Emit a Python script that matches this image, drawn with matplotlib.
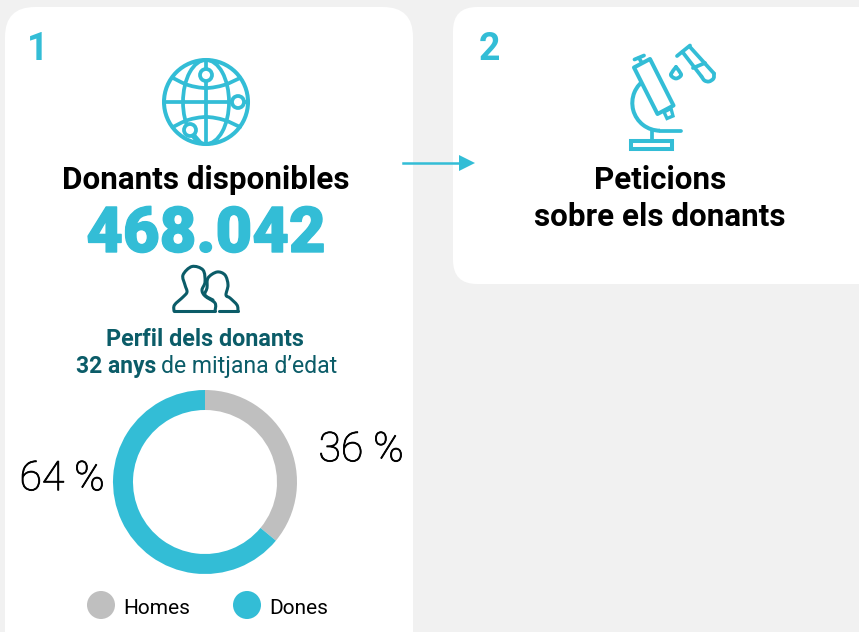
import numpy as np
import matplotlib
matplotlib.use('Agg')
import matplotlib.pyplot as plt
import matplotlib.patheffects as pe
from matplotlib.patches import FancyBboxPatch, Circle, Ellipse, Polygon, Arc
from matplotlib.path import Path
from matplotlib.patches import PathPatch

# ============================================================================
# DATA
# ============================================================================

gender_labels = ['Homes', 'Dones']
gender_values = [36, 64]
gender_pct_text = ['36 %', '64 %']
total_donors = '468.042'

TEAL = '#33bdd6'
DARK = '#0b5c68'
GREY = '#bfbfbf'
BG = '#f1f1f1'
FONT = 'Roboto'

W, H = 859, 632
fig = plt.figure(figsize=(W / 100, H / 100), dpi=100, facecolor=BG)
ax = fig.add_axes([0, 0, 1, 1])
ax.set_xlim(0, W)
ax.set_ylim(H, 0)
ax.axis('off')


def card(x0, y0, x1, y1, r=30):
    ax.add_patch(FancyBboxPatch((x0 + r, y0 + r), x1 - x0 - 2 * r, y1 - y0 - 2 * r,
                                boxstyle=f'round,pad={r},rounding_size={r}',
                                fc='white', ec='none'))


def smooth(points, color, lw=2.7):
    """Catmull-Rom curve through the points, used for the icon outlines."""
    p = np.array(points, dtype=float)
    q = np.vstack([p[0], p, p[-1]])
    verts = [p[0]]
    codes = [Path.MOVETO]
    for i in range(1, len(q) - 2):
        c1 = q[i] + (q[i + 1] - q[i - 1]) / 6
        c2 = q[i + 1] - (q[i + 2] - q[i]) / 6
        verts += [c1, c2, q[i + 1]]
        codes += [Path.CURVE4] * 3
    ax.add_patch(PathPatch(Path(verts, codes), fc='none', ec=color, lw=lw, capstyle='round', joinstyle='round'))


def line(xs, ys, color=TEAL, lw=2.7):
    ax.plot(xs, ys, color=color, lw=lw, solid_capstyle='round', solid_joinstyle='round')


def label(x, y, s, size, color='black', weight='bold', ha='center', font=FONT, **kw):
    return ax.text(x, y, s, fontsize=size, color=color, fontweight=weight, ha=ha, va='center',
                   family=font, **kw)


# ============================================================================
# CARDS AND ARROW
# ============================================================================

card(5, 7, 413, 670)
card(453, 7, 900, 284, r=24)

label(38, 49, '1', 27, TEAL)
label(489, 49, '2', 27, TEAL)

ax.plot([403, 462], [163, 163], color=TEAL, lw=1.8)
ax.add_patch(Polygon([[459, 155], [475, 163], [459, 171]], fc=TEAL, ec='none'))

# ============================================================================
# GLOBE ICON
# ============================================================================

gx, gy = 206, 102
ax.add_patch(Circle((gx, gy), 42, fc='none', ec=TEAL, lw=2.9))
ax.add_patch(Ellipse((gx, gy), 46, 84, fc='none', ec=TEAL, lw=2.7))
line([gx, gx], [gy - 42, gy + 42])
line([gx - 42, gx + 42], [gy, gy])
smooth([(173, 78), (188, 85), (206, 88), (224, 85), (240, 78)], TEAL)
smooth([(173, 127), (188, 120), (206, 117), (224, 120), (240, 127)], TEAL)
for cx, cy in [(206, 75), (238, 102), (190, 130)]:
    ax.add_patch(Circle((cx, cy), 6, fc='white', ec=TEAL, lw=2.7, zorder=3))
line([194, 201], [135, 143])

# ============================================================================
# MICROSCOPE ICON
# ============================================================================

ax.add_patch(Polygon([[634, 67.5], [650, 59], [673.5, 105.5], [657.5, 114]], fc='white', ec=TEAL,
                     lw=2.9, joinstyle='round', zorder=3))
line([634.5, 644], [59.5, 55.5])
line([639, 642.5], [58, 64])
ax.add_patch(Polygon([[664, 112], [671, 108.5], [673, 116], [667, 118.5]], fc='none', ec=TEAL, lw=2.4))
ax.add_patch(FancyBboxPatch((631, 140.5), 41, 8, boxstyle='square,pad=0', fc='none', ec=TEAL, lw=2.9))
line([651.7, 651.7], [131, 140])
line([660, 681], [130.7, 130.7])
# arc angles are mirrored by the inverted y axis
ax.add_patch(Arc((660, 103), 55.4, 55.4, theta1=90, theta2=240, fc='none', ec=TEAL, lw=2.9))
smooth([(676, 67), (671, 74), (672.5, 77), (676, 78.5), (679.5, 77), (681, 74), (676, 67)], TEAL)
line([677, 690], [56, 45.5])
line([682.5, 701.5], [52, 76.5])
line([690, 714], [47, 73.5])
line([693, 705], [68, 63])
smooth([(701.5, 76.5), (704.5, 80.5), (709, 81.5), (713.5, 78.5), (714, 73.5)], TEAL)

# ============================================================================
# HEADINGS
# ============================================================================

label(206, 180, 'Donants disponibles', 22.6)
big = label(206, 235, total_donors, 45.6, TEAL, weight='black')
big.set_path_effects([pe.withStroke(linewidth=1.0, foreground=TEAL)])
label(660, 180, 'Peticions', 22.6)
label(660, 217, 'sobre els donants', 22.6)

# ============================================================================
# PEOPLE ICON
# ============================================================================

smooth([(174, 311), (174.5, 305), (183, 297), (187, 292), (185, 285), (183, 275), (192, 266.5), (203, 270),
        (205, 282), (202, 290), (205, 296), (215, 303), (215, 311)], DARK, lw=2.2)
line([174, 215], [311, 311], DARK, lw=2.2)
smooth([(238, 311), (237, 305), (230, 298), (226, 295), (228, 285), (225, 275), (217, 272), (208, 278),
        (207, 288), (205, 295), (213, 300)], DARK, lw=2.2)
line([219, 238], [311, 311], DARK, lw=2.2)

label(205, 340, 'Perfil dels donants', 16.8, DARK)
label(76, 367, '32 anys', 16.5, DARK, ha='left')
label(161, 367, 'de mitjana d’edat', 16.6, DARK, weight='normal', ha='left')

# ============================================================================
# DONUT
# ============================================================================

pie_ax = fig.add_axes([113 / W, 1 - 574 / H, 184 / W, 184 / H])
pie_ax.pie(gender_values, colors=[GREY, TEAL], startangle=90, counterclock=False, radius=1,
           wedgeprops=dict(width=20 / 92, edgecolor='none'))
pie_ax.set_xlim(-1, 1)
pie_ax.set_ylim(-1, 1)
pie_ax.set_aspect('equal')

for x, y, s in zip([361, 62], [450, 479], gender_pct_text):
    t = label(x, y, s, 29.5, weight='light')
    t.set_path_effects([pe.withStroke(linewidth=0.6, foreground='black')])

# legend
for lx, c, name in zip([101, 247], [GREY, TEAL], gender_labels):
    ax.add_patch(Circle((lx, 605), 14, fc=c, ec='none'))
    label(lx + 22, 608, name, 15, weight='normal', ha='left')

fig.savefig('out.png', dpi=100, facecolor=BG)
